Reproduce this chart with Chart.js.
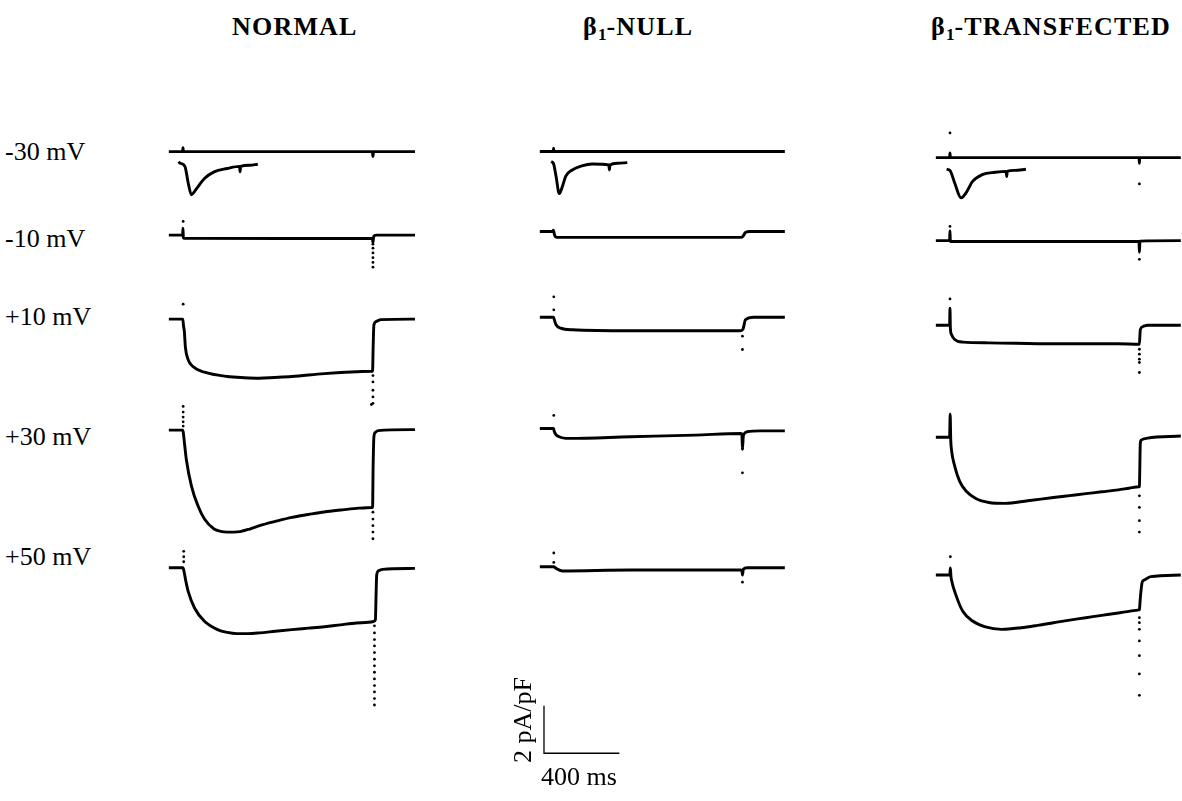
<!DOCTYPE html>
<html lang="en">
<head>
<meta charset="UTF-8">
<title>Whole-cell current traces</title>
<script src="https://cdn.jsdelivr.net/npm/chart.js"></script>
<style>
  body {
    margin: 0;
    width: 1182px;
    height: 801px;
    overflow: hidden;
    position: relative;
    background: #fff;
    color: #000;
    font-family: "Liberation Serif", "Times New Roman", serif;
  }
  canvas { position: absolute; }
  .title {
    position: absolute;
    top: 14px;
    font-size: 26px;
    font-weight: bold;
    letter-spacing: 1.2px;
    line-height: 1;
    white-space: nowrap;
  }
  .title sub { font-size: 17px; line-height: 0; vertical-align: -5px; letter-spacing: 0; }
  .volt {
    position: absolute;
    left: 5px;
    font-size: 26px;
    line-height: 1;
    white-space: nowrap;
  }
  .bar {
    position: absolute;
    font-size: 26px;
    line-height: 1;
    white-space: nowrap;
  }
</style>
</head>
<body>

<script>
// groups and test potentials
const groups = ['NORMAL', 'β1-NULL', 'β1-TRANSFECTED'];
const potentials = ['-30 mV', '-10 mV', '+10 mV', '+30 mV', '+50 mV'];

// scale bar size
const barMs = 400;
const barPaPF = 2;

// traces: [time ms, current pA/pF] relative to holding current
// NORMAL
const normalM30 = [[0,0],[73,0],[75,0.17],[77,0],[1080,0],[1083,-0.2],[1086,0],[1306,0]];
const normalM10 = [[0,0],[73,0],[75,0.29],[77,-0.1],[80,-0.13],[600,-0.14],[1080,-0.14],[1083,-0.3],[1087,-0.05],[1100,0],[1306,0]];
const normalP10 = [[0,0],[74,0],[78,-0.3],[82,-0.5],[88,-1.2],[102,-1.7],[128,-2.0],[189,-2.24],[309,-2.42],[400,-2.47],[481,-2.49],[560,-2.46],[652,-2.42],[825,-2.3],[996,-2.22],[1079,-2.2],[1081,-2.2],[1084,-1.2],[1088,-0.25],[1100,-0.1],[1125,-0.02],[1306,0]];
const normalP30 = [[0,0],[74,0],[76,-0.07],[85,-0.7],[93,-1.25],[120,-2.36],[155,-3.2],[189,-3.75],[240,-4.17],[275,-4.27],[309,-4.3],[345,-4.3],[378,-4.28],[429,-4.17],[481,-4.03],[565,-3.85],[653,-3.68],[740,-3.56],[825,-3.45],[910,-3.37],[996,-3.3],[1079,-3.26],[1081,-3.26],[1084,-1.5],[1088,-0.3],[1095,-0.1],[1110,-0.02],[1306,0.02]];
const normalP50 = [[0,0],[75,0],[81,-0.18],[91,-0.6],[103,-1.01],[137,-1.71],[189,-2.26],[258,-2.61],[310,-2.73],[361,-2.78],[420,-2.78],[481,-2.75],[565,-2.68],[653,-2.61],[740,-2.55],[825,-2.49],[910,-2.41],[996,-2.33],[1086,-2.27],[1088,-2.26],[1096,-2.2],[1100,-1.0],[1103,-0.3],[1115,-0.12],[1135,-0.07],[1306,-0.03]];
const normalInset = [[52,-0.42],[58,-0.48],[66,-0.5],[86,-0.64],[103,-1.33],[120,-1.82],[137,-1.67],[155,-1.47],[189,-1.13],[240,-0.85],[309,-0.71],[375,-0.62],[378,-0.85],[381,-0.62],[429,-0.57],[472,-0.53]];

// capacitive transient samples (drawn as dots)
const normalDotsM30 = [];
const normalDotsM10 = [[76,0.58],[1083,-0.38],[1083,-0.55],[1083,-0.75],[1083,-0.95],[1083,-1.15],[1083,-1.35]];
const normalDotsP10 = [[76,0.63],[1083,-2.38],[1083,-2.65],[1083,-3.0],[1083,-3.28],[1083,-3.55]];
const normalDotsP30 = [[76,1.0],[76,0.76],[76,0.55],[76,0.35],[76,0.17],[1075,1.08],[1083,-3.46],[1083,-3.75],[1083,-4.03],[1083,-4.3],[1083,-4.58]];
const normalDotsP50 = [[79,0.69],[79,0.46],[79,0.25],[1091,-2.45],[1091,-2.75],[1091,-3.03],[1091,-3.3],[1091,-3.58],[1091,-3.86],[1091,-4.14],[1091,-4.41],[1091,-4.69],[1091,-4.97],[1091,-5.24],[1091,-5.52],[1091,-5.79]];

// β1-NULL
const nullM30 = [[0,0],[71,0],[73,0.14],[75,0],[1300,0]];
const nullM10 = [[0,0],[68,0],[72,0.05],[78,-0.15],[90,-0.25],[600,-0.25],[1068,-0.25],[1078,-0.2],[1090,-0.05],[1110,0],[1300,0]];
const nullP10 = [[0,0],[73,0],[77,-0.11],[86,-0.32],[111,-0.46],[172,-0.53],[480,-0.57],[825,-0.57],[1065,-0.57],[1078,-0.5],[1091,-0.11],[1134,0],[1300,0]];
const nullP30 = [[0,0],[73,0],[77,-0.14],[103,-0.35],[155,-0.42],[480,-0.35],[825,-0.28],[1065,-0.21],[1072,-0.22],[1075,-0.87],[1080,-0.3],[1100,-0.14],[1169,-0.1],[1300,-0.1]];
const nullP50 = [[0,0],[73,0],[86,-0.07],[120,-0.18],[480,-0.14],[1065,-0.14],[1072,-0.15],[1075,-0.35],[1080,-0.1],[1100,-0.04],[1300,-0.04]];
const nullInset = [[60,-0.43],[72,-0.5],[86,-1.05],[103,-1.78],[120,-1.47],[137,-1.05],[172,-0.78],[223,-0.61],[278,-0.53],[366,-0.57],[369,-0.78],[372,-0.57],[412,-0.5],[464,-0.47]];

const nullDotsM30 = [];
const nullDotsM10 = [];
const nullDotsP10 = [[74,0.86],[74,0.31],[1075,-0.8],[1075,-1.36]];
const nullDotsP30 = [[74,0.55],[1075,-0.87],[1075,-1.87]];
const nullDotsP50 = [[74,0.58],[74,0.18],[1075,-0.65]];

// β1-TRANSFECTED
const transM30 = [[0,0],[73,0],[75,0.2],[77,0],[1078,0],[1080,-0.24],[1082,0],[1300,0]];
const transM10 = [[0,0],[73,0],[75,0.42],[77,-0.04],[600,-0.04],[1078,-0.04],[1080,-0.49],[1083,-0.02],[1300,0]];
const transP10 = [[0,0],[73,0],[75,0.72],[77,-0.1],[83,-0.39],[100,-0.6],[143,-0.71],[281,-0.74],[624,-0.78],[968,-0.78],[1078,-0.8],[1080,-0.8],[1085,-0.18],[1100,-0.05],[1123,0],[1300,0]];
const transP30 = [[0,0],[73,0],[76,0.97],[79,-0.1],[83,-0.53],[100,-1.22],[126,-1.85],[160,-2.27],[212,-2.58],[281,-2.75],[366,-2.79],[487,-2.68],[624,-2.54],[710,-2.46],[796,-2.38],[880,-2.3],[968,-2.22],[1025,-2.15],[1078,-2.09],[1080,-2.08],[1085,-0.25],[1090,-0.12],[1123,-0.04],[1300,0.05]];
const transP50 = [[0,0],[74,0],[77,0.3],[80,-0.05],[83,-0.21],[109,-0.9],[143,-1.53],[195,-1.94],[263,-2.19],[350,-2.29],[453,-2.22],[540,-2.12],[624,-2.01],[710,-1.9],[796,-1.8],[880,-1.7],[968,-1.6],[1025,-1.53],[1078,-1.47],[1080,-1.46],[1085,-0.97],[1095,-0.3],[1106,-0.21],[1140,-0.07],[1300,0]];
const transInset = [[57,-0.49],[75,-0.54],[100,-1.07],[134,-1.7],[160,-1.49],[195,-1.0],[246,-0.72],[315,-0.62],[373,-0.58],[376,-0.8],[379,-0.58],[418,-0.54],[478,-0.49]];

const transDotsM30 = [[75,1.04],[1080,-1.11]];
const transDotsM10 = [[75,0.6],[1080,-0.79]];
const transDotsP10 = [[75,1.11],[1080,-1.01],[1080,-1.22],[1080,-1.43],[1080,-1.57],[1080,-1.99]];
const transDotsP30 = [[1080,-2.47],[1080,-2.96],[1080,-3.52],[1080,-4.0]];
const transDotsP50 = [[77,0.77],[1080,-1.8],[1080,-2.01],[1080,-2.29],[1080,-2.78],[1080,-3.4],[1080,-4.17],[1080,-5.07]];

// ---- layout ----
const PX_PER_MS = 0.194;
const PX_PER_PAPF = 24;
const PANEL_W = 280, PANEL_H = 680;
const T_START = -100;   // ms at the left edge of each panel

const panels = [
  { left: 146, top: 100, base: [-2.01, -5.53, -9.07, -13.75, -19.55],
    traces: [normalM30, normalM10, normalP10, normalP30, normalP50],
    dots: [normalDotsM30, normalDotsM10, normalDotsP10, normalDotsP30, normalDotsP50],
    inset: normalInset },
  { left: 517, top: 100, base: [-2.0, -5.375, -8.99, -13.68, -19.51],
    traces: [nullM30, nullM10, nullP10, nullP30, nullP50],
    dots: [nullDotsM30, nullDotsM10, nullDotsP10, nullDotsP30, nullDotsP50],
    inset: nullInset,
    bar: { t: 22, i: -27.375 } },
  { left: 913, top: 100, base: [-2.26, -5.76, -9.33, -14.05, -19.86],
    traces: [transM30, transM10, transP10, transP30, transP50],
    dots: [transDotsM30, transDotsM10, transDotsP10, transDotsP30, transDotsP50],
    inset: transInset }
];

const titleLeft = [232, 583, 931];
const voltTop = [139, 226, 304, 424, 544];

function shift(pts, b) {
  return pts.map(([t, i]) => ({ x: t, y: i + b }));
}

function traceSet(points) {
  return {
    data: points,
    showLine: true,
    borderColor: '#000',
    borderWidth: 2.9,
    borderJoinStyle: 'round',
    pointRadius: 0,
    cubicInterpolationMode: 'monotone'
  };
}

function drawPanel(p) {
  const canvas = document.createElement('canvas');
  canvas.width = PANEL_W;
  canvas.height = PANEL_H;
  canvas.style.left = p.left + 'px';
  canvas.style.top = p.top + 'px';
  document.body.appendChild(canvas);

  const datasets = [];
  p.traces.forEach((pts, r) => {
    datasets.push(traceSet(shift(pts, p.base[r])));
    datasets.push({
      data: shift(p.dots[r], p.base[r]),
      showLine: false,
      pointRadius: 1.4,
      pointBorderWidth: 0,
      pointBackgroundColor: '#000'
    });
  });
  // expanded-time inset of the -30 mV current
  datasets.push(traceSet(shift(p.inset, p.base[0])));

  if (p.bar) {
    const b = p.bar;
    datasets.push({
      data: [{ x: b.t, y: b.i + barPaPF }, { x: b.t, y: b.i }, { x: b.t + barMs, y: b.i }],
      showLine: true,
      borderColor: '#000',
      borderWidth: 1.3,
      pointRadius: 0,
      tension: 0
    });
  }

  new Chart(canvas, {
    type: 'scatter',
    data: { datasets },
    options: {
      responsive: false,
      animation: false,
      events: [],
      layout: { padding: 0 },
      scales: {
        x: { type: 'linear', display: false, min: T_START, max: T_START + PANEL_W / PX_PER_MS },
        y: { type: 'linear', display: false, min: -PANEL_H / PX_PER_PAPF, max: 0 }
      },
      plugins: { legend: { display: false }, tooltip: { enabled: false } }
    }
  });
}

panels.forEach(drawPanel);

// column titles
groups.forEach((g, k) => {
  const el = document.createElement('div');
  el.className = 'title';
  el.style.left = titleLeft[k] + 'px';
  el.innerHTML = g.replace('β1', 'β<sub>1</sub>');
  document.body.appendChild(el);
});

// test potential labels
potentials.forEach((v, r) => {
  const el = document.createElement('div');
  el.className = 'volt';
  el.style.top = voltTop[r] + 'px';
  el.textContent = v;
  document.body.appendChild(el);
});

// scale bar labels
const yLab = document.createElement('div');
yLab.className = 'bar';
yLab.textContent = barPaPF + ' pA/pF';
yLab.style.left = '480px';
yLab.style.top = '707px';
yLab.style.transform = 'rotate(-90deg)';
document.body.appendChild(yLab);

const xLab = document.createElement('div');
xLab.className = 'bar';
xLab.textContent = barMs + ' ms';
xLab.style.left = '541px';
xLab.style.top = '764px';
document.body.appendChild(xLab);
</script>
</body>
</html>
